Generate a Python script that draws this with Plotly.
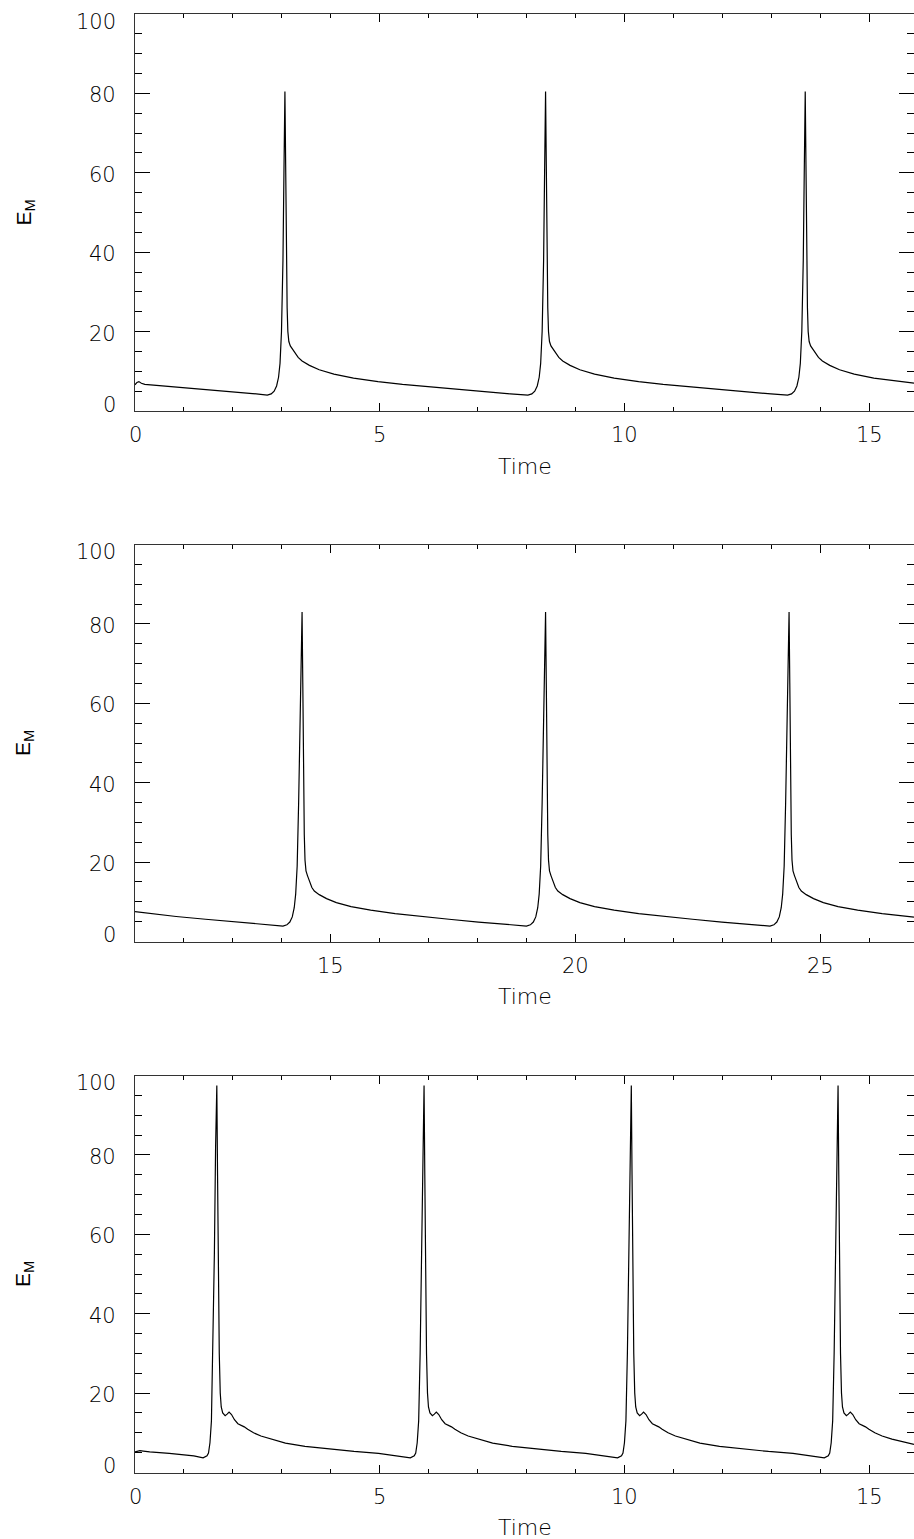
import plotly.graph_objects as go

# ---------------- data ----------------
t1 = [0, 0.04, 0.08, 0.13, 0.2, 0.5, 1.0, 1.5, 2.0, 2.4, 2.70,
      2.78, 2.84, 2.89, 2.93, 2.96, 2.99, 3.02, 3.04, 3.06, 3.075, 3.09, 3.105, 3.12, 3.14, 3.17, 3.21, 3.26, 3.33, 3.41,
      3.56, 3.76, 4.06, 4.46, 4.96, 5.46, 6.06, 6.66, 7.26, 7.66,
      8.02, 8.10, 8.16, 8.21, 8.25, 8.28, 8.31, 8.34, 8.36, 8.38, 8.395, 8.41, 8.425, 8.44, 8.46, 8.49, 8.53, 8.58, 8.65, 8.73,
      8.88, 9.08, 9.38, 9.78, 10.28, 10.78, 11.38, 11.98, 12.58, 12.98,
      13.32, 13.40, 13.46, 13.51, 13.55, 13.58, 13.61, 13.64, 13.66, 13.68, 13.695, 13.71, 13.725, 13.74, 13.76, 13.79, 13.83, 13.88, 13.95, 14.03,
      14.18, 14.38, 14.68, 15.08, 15.58, 15.9]
e1 = [6.6, 7.2, 7.4, 7.0, 6.7, 6.4, 5.9, 5.4, 4.9, 4.4, 4.0,
      4.3, 5.0, 6.3, 8.5, 12, 20, 38, 60, 80.5, 62, 40, 26, 20, 17.5, 16.4, 15.6, 14.6, 13.5, 12.6,
      11.5, 10.4, 9.3, 8.3, 7.4, 6.7, 6.0, 5.3, 4.7, 4.3,
      4.0, 4.3, 5.0, 6.3, 8.5, 12, 20, 38, 60, 80.5, 62, 40, 26, 20, 17.5, 16.4, 15.6, 14.6, 13.5, 12.6,
      11.5, 10.4, 9.3, 8.3, 7.4, 6.7, 6.0, 5.3, 4.7, 4.3,
      4.0, 4.3, 5.0, 6.3, 8.5, 12, 20, 38, 60, 80.5, 62, 40, 26, 20, 17.5, 16.4, 15.6, 14.6, 13.5, 12.6,
      11.5, 10.4, 9.3, 8.3, 7.4, 7.0]

t2 = [11.0, 11.34, 11.84, 12.44, 13.04, 13.64,
      14.02, 14.10, 14.16, 14.21, 14.25, 14.28, 14.31, 14.34, 14.37, 14.39, 14.41, 14.425, 14.44, 14.455, 14.47, 14.49, 14.52, 14.56, 14.61, 14.66, 14.76,
      14.91, 15.11, 15.41, 15.81, 16.31, 16.81, 17.41, 18.01, 18.61,
      18.99, 19.07, 19.13, 19.18, 19.22, 19.25, 19.28, 19.31, 19.34, 19.36, 19.38, 19.395, 19.41, 19.425, 19.44, 19.46, 19.49, 19.53, 19.58, 19.63, 19.73,
      19.88, 20.08, 20.38, 20.78, 21.28, 21.78, 22.38, 22.98, 23.58,
      23.96, 24.04, 24.10, 24.15, 24.19, 24.22, 24.25, 24.28, 24.31, 24.33, 24.35, 24.365, 24.38, 24.395, 24.41, 24.43, 24.46, 24.50, 24.55, 24.60, 24.70,
      24.85, 25.05, 25.35, 25.75, 26.25, 26.9]
e2 = [7.5, 7.0, 6.3, 5.6, 4.9, 4.3,
      3.9, 4.2, 4.9, 6.2, 8.5, 12, 19, 35, 58, 75, 83, 65, 42, 27, 20.5, 17.8, 16.6, 15.3, 13.6, 12.7, 11.8,
      10.8, 9.8, 8.8, 7.9, 7.0, 6.3, 5.6, 4.9, 4.3,
      3.9, 4.2, 4.9, 6.2, 8.5, 12, 19, 35, 58, 75, 83, 65, 42, 27, 20.5, 17.8, 16.6, 15.3, 13.6, 12.7, 11.8,
      10.8, 9.8, 8.8, 7.9, 7.0, 6.3, 5.6, 4.9, 4.3,
      3.9, 4.2, 4.9, 6.2, 8.5, 12, 19, 35, 58, 75, 83, 65, 42, 27, 20.5, 17.8, 16.6, 15.3, 13.6, 12.7, 11.8,
      10.8, 9.8, 8.8, 7.9, 7.0, 6.15]

t3 = [0, 0.05, 0.1, 0.17, 0.3, 0.7, 1.0, 1.2,
      1.39, 1.47, 1.50, 1.53, 1.56, 1.59, 1.62, 1.645, 1.67, 1.685, 1.70, 1.72, 1.74, 1.76, 1.79, 1.84, 1.88, 1.92, 1.97, 2.03, 2.10, 2.17, 2.23, 2.30,
      2.42, 2.57, 2.77, 3.07, 3.47, 3.97, 4.47, 4.97, 5.37,
      5.62, 5.70, 5.73, 5.76, 5.79, 5.82, 5.85, 5.875, 5.90, 5.915, 5.93, 5.95, 5.97, 5.99, 6.02, 6.07, 6.11, 6.15, 6.20, 6.26, 6.33, 6.40, 6.46, 6.53,
      6.65, 6.80, 7.00, 7.30, 7.70, 8.20, 8.70, 9.20, 9.60,
      9.85, 9.93, 9.96, 9.99, 10.02, 10.05, 10.08, 10.105, 10.13, 10.145, 10.16, 10.18, 10.20, 10.22, 10.25, 10.30, 10.34, 10.38, 10.43, 10.49, 10.56, 10.63, 10.69, 10.76,
      10.88, 11.03, 11.23, 11.53, 11.93, 12.43, 12.93, 13.43, 13.83,
      14.07, 14.15, 14.18, 14.21, 14.24, 14.27, 14.30, 14.325, 14.35, 14.365, 14.38, 14.40, 14.42, 14.44, 14.47, 14.52, 14.56, 14.60, 14.65, 14.71, 14.78, 14.85, 14.91, 14.98,
      15.10, 15.25, 15.45, 15.9]
e3 = [5.2, 5.4, 5.5, 5.4, 5.2, 4.8, 4.5, 4.2,
      3.7, 4.2, 4.9, 7.5, 13, 30, 55, 82, 97.5, 75, 50, 30, 20, 16.5, 15.0, 14.3, 14.7, 15.2, 14.6, 13.3, 12.3, 11.9, 11.5, 10.9,
      10.0, 9.2, 8.4, 7.4, 6.6, 5.9, 5.3, 4.8, 4.2,
      3.7, 4.2, 4.9, 7.5, 13, 30, 55, 82, 97.5, 75, 50, 30, 20, 16.5, 15.0, 14.3, 14.7, 15.2, 14.6, 13.3, 12.3, 11.9, 11.5, 10.9,
      10.0, 9.2, 8.4, 7.4, 6.6, 5.9, 5.3, 4.8, 4.2,
      3.7, 4.2, 4.9, 7.5, 13, 30, 55, 82, 97.5, 75, 50, 30, 20, 16.5, 15.0, 14.3, 14.7, 15.2, 14.6, 13.3, 12.3, 11.9, 11.5, 10.9,
      10.0, 9.2, 8.4, 7.4, 6.6, 5.9, 5.3, 4.8, 4.2,
      3.7, 4.2, 4.9, 7.5, 13, 30, 55, 82, 97.5, 75, 50, 30, 20, 16.5, 15.0, 14.3, 14.7, 15.2, 14.6, 13.3, 12.3, 11.9, 11.5, 10.9,
      10.0, 9.2, 8.4, 7.1]

x_ranges = [[0, 15.9], [11, 26.9], [0, 15.9]]
x_ticks = [[0, 5, 10, 15], [15, 20, 25], [0, 5, 10, 15]]
y_range = [0, 100]
y_ticks = [0, 20, 40, 60, 80, 100]
y_tick_text = ["0", "20", "40", "60", "80", "100"]
x_label = "Time"
y_label = "E<sub>M</sub>"

# ---------------- figure ----------------
W, H = 914, 1539
panels_px = [(14, 411), (544.5, 941.5), (1075.5, 1472.5)]  # top, bottom in px
x_left_px = 135

fig = go.Figure()
series = [(t1, e1), (t2, e2), (t3, e3)]
FONT = "DejaVu Sans, Liberation Sans, sans-serif"
TXT = "black"
TICKFONT = dict(family=FONT, size=21, color=TXT, weight=200)


def label_shift(v):
    # the reference keeps the end labels inside the axis span
    if v == y_range[0]:
        return 6.5
    if v == y_range[1]:
        return -7.5
    return -2


for i, (tt, ee) in enumerate(series):
    n = "" if i == 0 else str(i + 1)
    fig.add_trace(go.Scatter(x=tt, y=ee, mode="lines",
                             line=dict(color="black", width=1.2),
                             xaxis="x" + n, yaxis="y" + n, showlegend=False,
                             hoverinfo="skip"))
    top, bot = panels_px[i]
    ydom = [1 - bot / H, 1 - top / H]
    xax = dict(domain=[x_left_px / W, 1], range=x_ranges[i], anchor="y" + n,
               automargin=False,
               showline=True, linecolor="#333", linewidth=1, mirror="allticks",
               ticks="inside", ticklen=8, tickwidth=1, tickcolor="black",
               tickmode="array", tickvals=x_ticks[i], showticklabels=False,
               minor=dict(ticks="inside", ticklen=4, dtick=1, tick0=0, tickcolor="black", tickwidth=1),
               showgrid=False, zeroline=False)
    yax = dict(domain=ydom, range=y_range, anchor="x" + n,
               automargin=False,
               showline=True, linecolor="#333", linewidth=1, mirror="allticks",
               ticks="inside", ticklen=15, tickwidth=1, tickcolor="black",
               tickmode="array", tickvals=y_ticks, showticklabels=False,
               minor=dict(ticks="inside", ticklen=7, dtick=5, tick0=0, tickcolor="black", tickwidth=1),
               showgrid=False, zeroline=False)
    fig.layout["xaxis" + n] = xax
    fig.layout["yaxis" + n] = yax
    for v, s in zip(y_ticks, y_tick_text):
        fig.add_annotation(text=s, xref="x" + n + " domain", yref="y" + n,
                           x=0, y=v, xshift=-17, yshift=label_shift(v),
                           xanchor="right", yanchor="middle", showarrow=False,
                           font=TICKFONT)
    for v in x_ticks[i]:
        fig.add_annotation(text=str(v), xref="x" + n, yref="y" + n + " domain",
                           x=v, y=0, yshift=-24, xanchor="center", yanchor="middle",
                           showarrow=False, font=TICKFONT)
    fig.add_annotation(text=x_label, xref="x" + n + " domain", yref="y" + n + " domain",
                       x=0.5, y=0, yshift=-55, xanchor="center", yanchor="middle",
                       showarrow=False, font=dict(family=FONT, size=22, color=TXT, weight=200))
    fig.add_annotation(text=y_label, xref="x" + n + " domain", yref="y" + n + " domain",
                       x=0, y=0.5, xshift=-111, xanchor="center", yanchor="middle",
                       textangle=-90, showarrow=False,
                       font=dict(family="Liberation Sans Narrow, Liberation Sans, sans-serif",
                                 size=21, color=TXT))

fig.update_layout(template="none", width=W, height=H,
                  margin=dict(l=0, r=0, t=0, b=0, autoexpand=False),
                  paper_bgcolor="white", plot_bgcolor="white")
fig.write_html("out.html")
